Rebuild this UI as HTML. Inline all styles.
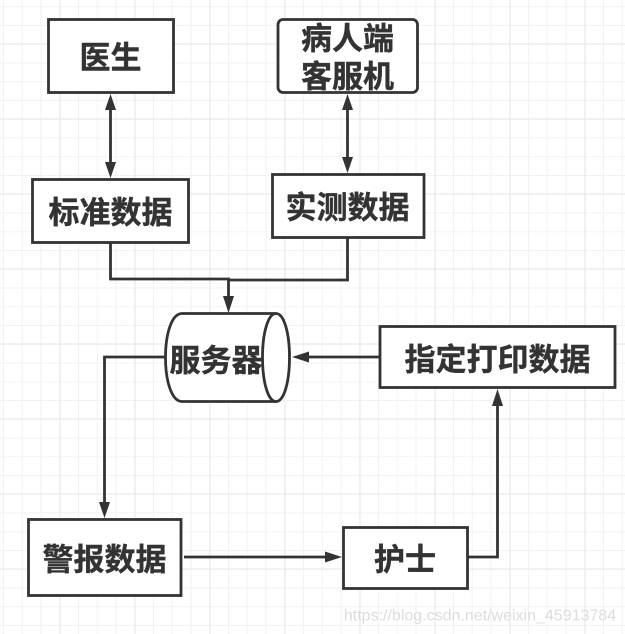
<!DOCTYPE html>
<html><head><meta charset="utf-8">
<style>
html,body{margin:0;padding:0;background:#fff}
svg{display:block}
text{font-family:"Liberation Sans","Noto Sans CJK SC",sans-serif;font-weight:700;font-size:31px;fill:#333;stroke:#333;stroke-width:.4px;text-anchor:middle;dominant-baseline:central}
</style></head><body>
<svg width="625" height="634" viewBox="0 0 625 634" xmlns="http://www.w3.org/2000/svg">
<defs>
<pattern id="minor" width="18.75" height="18.75" patternUnits="userSpaceOnUse" x="3" y="6.25">
<path d="M0.5 0V18.75M0 0.5H18.75" stroke="#f2f2f2" stroke-width="1" fill="none"/>
</pattern>
<pattern id="major" width="75" height="75" patternUnits="userSpaceOnUse" x="59.5" y="43.5">
<path d="M0.5 0V75M0 0.5H75" stroke="#e6e6e6" stroke-width="1" fill="none"/>
</pattern>
</defs>
<rect width="625" height="634" fill="#fff"/>
<rect width="625" height="634" fill="url(#minor)"/>
<rect width="625" height="634" fill="url(#major)"/>

<g fill="none" stroke="#333" stroke-width="2.8">
<path d="M110.500 105V167"/>
<path d="M347.500 105V162"/>
<path d="M110.500 243V279H228.500V298"/>
<path d="M347.500 238V280H228.500"/>
<path d="M165 357H104.500V505"/>
<path d="M305 357H380"/>
<path d="M184 557H330"/>
<path d="M468 557H497.500V403"/>
</g>
<g fill="#333" stroke="none">
<path d="M110.500 94L116 110H105Z"/>
<path d="M110.500 178L116 162H105Z"/>
<path d="M347.500 94L353 110H342Z"/>
<path d="M347.500 173L353 157H342Z"/>
<path d="M228.500 313L234 296H223Z"/>
<path d="M104.500 518L110 502H99Z"/>
<path d="M292 357L309 351.500V362.500Z"/>
<path d="M342 557L325 551.500V562.500Z"/>
<path d="M497.500 389L503 406H492Z"/>
</g>

<g fill="#fff" stroke="#333" stroke-width="2.800">
<rect x="48.500" y="19.500" width="125" height="73"/>
<rect x="32.500" y="179.500" width="156" height="63"/>
<rect x="278" y="19.500" width="139.500" height="73" rx="5"/>
<rect x="272.500" y="174.500" width="151.500" height="63"/>
<rect x="380" y="326.500" width="235" height="61"/>
<rect x="28.500" y="519.500" width="152.500" height="76"/>
<rect x="343.500" y="527.500" width="124" height="61"/>
<path d="M182 313.500H276C284 313.500 289.500 333 289.500 357.500C289.500 382 284 401.500 276 401.500H182C172 401.500 165.500 382 165.500 357.500C165.500 333 172 313.500 182 313.500Z"/>
<path d="M276 313.500C268 313.500 262.500 333 262.500 357.500C262.500 382 268 401.500 276 401.500" fill="none"/>
</g>

<text x="110.500" y="58">医生</text>
<text x="110.500" y="213">标准数据</text>
<text x="347.500" y="39">病人端</text>
<text x="347.500" y="77">客服机</text>
<text x="347.500" y="208">实测数据</text>
<text x="216" y="361">服务器</text>
<text x="497.500" y="360">指定打印数据</text>
<text x="104.500" y="560">警报数据</text>
<text x="405" y="560">护士</text>
<text x="480" y="616" style="font-family:'Liberation Sans',sans-serif;font-weight:400;font-size:16px;fill:#dcdcdc;stroke:none">https://blog.csdn.net/weixin_45913784</text>
</svg>
</body></html>
